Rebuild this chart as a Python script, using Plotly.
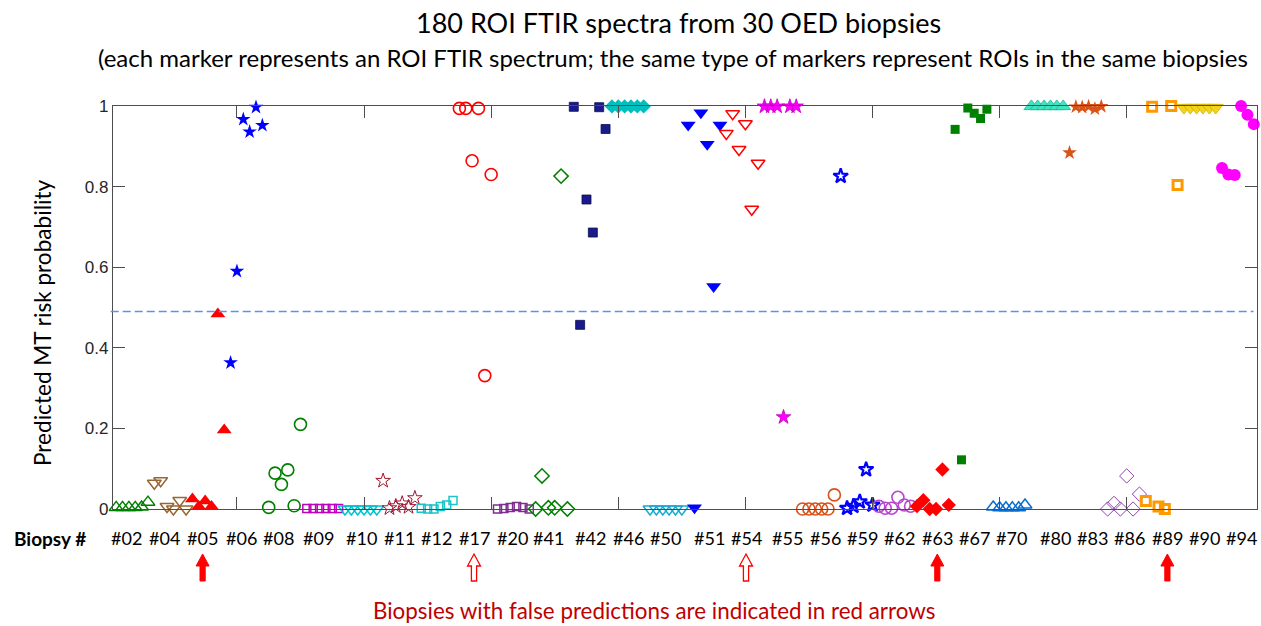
import plotly.graph_objects as go

# ---------------- data ----------------
biopsy_labels = ["#02", "#04", "#05", "#06", "#08", "#09", "#10", "#11", "#12", "#17",
                 "#20", "#41", "#42", "#46", "#50", "#51", "#54", "#55", "#56", "#59",
                 "#62", "#63", "#67", "#70", "#80", "#83", "#86", "#89", "#90", "#94"]

b02 = [0.004, 0.004, 0.004, 0.004, 0.005, 0.017]
b04 = [0.064, 0.070, 0.006, 0.000, 0.021, 0.000]
b05 = [0.025, 0.006, 0.020, 0.006, 0.484, 0.196]
b06 = [0.363, 0.590, 0.967, 0.936, 0.997, 0.952]
b08 = [0.004, 0.089, 0.061, 0.097, 0.008, 0.210]
b09 = [0.001, 0.001, 0.001, 0.001, 0.001, 0.001]
b10 = [0.000, 0.000, 0.000, 0.000, 0.000, 0.000]
b11 = [0.070, 0.002, 0.007, 0.014, 0.005, 0.027]
b12 = [0.002, 0.000, 0.000, 0.006, 0.010, 0.021]
b17 = [0.994, 0.994, 0.864, 0.994, 0.331, 0.830]
b20 = [0.000, 0.001, 0.004, 0.006, 0.004, 0.000]
b41 = [0.000, 0.082, 0.003, 0.003, 0.826, 0.000]
b42 = [0.998, 0.457, 0.768, 0.686, 0.997, 0.943]
b46 = [0.999, 0.999, 0.999, 0.999, 0.999, 0.999]
b50 = [0.000, 0.000, 0.000, 0.000, 0.000, 0.000]
b51 = [0.953, 0.003, 0.983, 0.905, 0.552, 0.953]
b54 = [0.932, 0.981, 0.892, 0.956, 0.744, 0.858]
b55 = [0.999, 0.999, 0.999, 0.228, 0.999, 0.999]
b56 = [0.000, 0.000, 0.000, 0.000, 0.000, 0.035]
b59 = [0.826, 0.002, 0.007, 0.018, 0.098, 0.010]
b62 = [0.007, 0.002, 0.002, 0.029, 0.010, 0.007]
b63 = [0.007, 0.022, 0.000, 0.000, 0.098, 0.010]
b67 = [0.942, 0.122, 0.995, 0.982, 0.969, 0.992]
b70 = [0.005, 0.003, 0.003, 0.003, 0.003, 0.010]
b80 = [0.999, 0.999, 0.999, 0.999, 0.999, 0.999]
b83 = [0.884, 0.998, 0.997, 0.999, 0.993, 0.999]
b86 = [0.000, 0.014, 0.000, 0.082, 0.000, 0.037]
b89 = [0.020, 0.998, 0.006, 0.000, 1.000, 0.804]
b90 = [0.996, 0.996, 0.996, 0.996, 0.996, 0.996]
b94 = [0.846, 0.830, 0.829, 1.000, 0.978, 0.955]

series = [b02, b04, b05, b06, b08, b09, b10, b11, b12, b17,
          b20, b41, b42, b46, b50, b51, b54, b55, b56, b59,
          b62, b63, b67, b70, b80, b83, b86, b89, b90, b94]

# x position (ROI index units) of each biopsy label under the axis
label_x = [2.7, 8.6, 14.6, 20.7, 26.5, 32.9, 39.6, 45.5, 51.4, 57.3,
           63.4, 69.0, 75.7, 81.6, 87.4, 94.4, 100.1, 106.7, 112.6, 118.4,
           124.3, 130.2, 136.1, 141.9, 148.8, 154.6, 160.4, 166.4, 172.2, 178.1]

false_prediction = {"#05": "solid", "#17": "hollow", "#54": "hollow", "#63": "solid", "#89": "solid"}

threshold = 0.49
y_ticks = [0, 0.2, 0.4, 0.6, 0.8, 1]
y_ticktext = ["0", "0.2", "0.4", "0.6", "0.8", "1"]
x_ticks = [20, 40, 60, 80, 100, 120, 140, 160]

# ---------------- styles ----------------
# (symbol, color, size, line width, edge color)
styles = [
    ("triangle-up-open", "#008000", 12, 1.5, None),
    ("triangle-down-open", "#996633", 12, 1.5, None),
    ("triangle-up", "#FF0000", 13, 0, None),
    ("star", "#0000FF", 11, 0, None),
    ("circle-open", "#008000", 12, 1.6, None),
    ("square-open", "#BF00BF", 8, 1.5, None),
    ("triangle-down-open", "#00C3D0", 12, 1.5, None),
    ("star-open", "#A2142F", 11, 1.0, None),
    ("square-open", "#1CC3C8", 8, 1.5, None),
    ("circle-open", "#FF0000", 12, 1.6, None),
    ("square-open", "#7E2F8E", 8, 1.5, None),
    ("diamond-open", "#008000", 11, 1.5, None),
    ("square", "#1A1A8C", 9, 0.8, "#0D0D50"),
    ("diamond", "#00BFBF", 11, 0, None),
    ("triangle-down-open", "#1AAAD2", 12, 1.5, None),
    ("triangle-down", "#0000FF", 13, 0, None),
    ("triangle-down-open", "#FF0000", 12, 1.5, None),
    ("star", "#FF00FF", 11, 0.8, "#C000C0"),
    ("circle-open", "#D95319", 12, 1.6, None),
    ("star-open", "#0000FF", 11, 2.2, None),
    ("circle-open", "#B847D0", 12, 1.6, None),
    ("diamond", "#FF0000", 11, 0, None),
    ("square", "#008000", 9, 0, None),
    ("triangle-up-open", "#0A6ED1", 12, 1.5, None),
    ("triangle-up", "#3DE6C0", 13, 0.8, "#22B39A"),
    ("star", "#D95319", 11, 0, None),
    ("diamond-open", "#8E44AD", 11, 1.0, None),
    ("square-open", "#FF9900", 9, 3.0, None),
    ("triangle-down", "#F2D41A", 13, 0.8, "#D4B000"),
    ("circle", "#FF00FF", 12, 0, None),
]

fig = go.Figure()
n_per = 6
for k, (vals, lab, st) in enumerate(zip(series, biopsy_labels, styles)):
    sym, col, size, lw, edge = st
    xs = [k * n_per + i + 1 for i in range(len(vals))]
    marker = dict(symbol=sym, color=col, size=size,
                  line=dict(width=lw, color=edge if edge else col))
    fig.add_trace(go.Scatter(x=xs, y=vals, mode="markers", marker=marker,
                             name=lab, cliponaxis=False, showlegend=False))

# ---------------- geometry helpers ----------------
L, R, T, B = 113, 4, 106, 117
W, H = 1261, 626
plot_w = W - L - R
plot_h = H - T - B
x_range = [0.5, 180.5]
px_per_unit = plot_w / (x_range[1] - x_range[0])


def py2paper(py):
    return (H - B - py) / plot_h


def px2paper(px):
    return (px - L) / plot_w


axis_col = "#4D4D4D"
text_font = "Lato, 'Open Sans', sans-serif"

# threshold dashed line
fig.add_shape(type="line", xref="paper", yref="y", x0=-0.002, x1=0.997,
              y0=threshold, y1=threshold,
              line=dict(color="#5A92F0", width=1.5, dash="8px,4px"))

annotations = []
# titles
annotations.append(dict(text="180 ROI FTIR spectra from 30 OED biopsies",
                        xref="paper", yref="paper", x=px2paper(678), y=py2paper(22),
                        showarrow=False, xanchor="center", yanchor="middle",
                        font=dict(family=text_font, size=27, color="#000000")))
annotations.append(dict(text="(each marker represents an ROI FTIR spectrum; the same type of markers represent ROIs in the same biopsies",
                        xref="paper", yref="paper", x=px2paper(673), y=py2paper(57),
                        showarrow=False, xanchor="center", yanchor="middle",
                        font=dict(family=text_font, size=24, color="#000000")))
# y label
annotations.append(dict(text="Predicted MT risk probability",
                        xref="paper", yref="paper", x=px2paper(42), y=py2paper(323),
                        showarrow=False, xanchor="center", yanchor="middle", textangle=-90,
                        font=dict(family=text_font, size=22.6, color="#000000")))
# Biopsy # header
annotations.append(dict(text="<b>Biopsy #</b>", xref="paper", yref="paper",
                        x=px2paper(50), y=py2paper(538), showarrow=False,
                        xanchor="center", yanchor="middle",
                        font=dict(family=text_font, size=19, color="#000000")))
for lab, lx in zip(biopsy_labels, label_x):
    annotations.append(dict(text=lab, xref="x", yref="paper", x=lx, y=py2paper(538),
                            showarrow=False, xanchor="center", yanchor="middle",
                            font=dict(family=text_font, size=18, color="#000000")))
# bottom note
annotations.append(dict(text="Biopsies with false predictions are indicated in red arrows",
                        xref="paper", yref="paper", x=px2paper(654), y=py2paper(610),
                        showarrow=False, xanchor="center", yanchor="middle",
                        font=dict(family=text_font, size=22.4, color="#C00000")))

# arrows (shapes) under biopsies with false predictions
tip, head_base, bottom = 554, 566, 581
hw, sw = 6.5 / px_per_unit, 2.6 / px_per_unit
for lab, kind in false_prediction.items():
    xc = label_x[biopsy_labels.index(lab)]
    yt, yh, yb = py2paper(tip), py2paper(head_base), py2paper(bottom)
    path = (f"M {xc},{yt} L {xc + hw},{yh} L {xc + sw},{yh} L {xc + sw},{yb} "
            f"L {xc - sw},{yb} L {xc - sw},{yh} L {xc - hw},{yh} Z")
    if kind == "solid":
        fig.add_shape(type="path", xref="x", yref="paper", path=path,
                      fillcolor="#FF0000", line=dict(color="#FF0000", width=1))
    else:
        fig.add_shape(type="path", xref="x", yref="paper", path=path,
                      fillcolor="#FFFFFF", line=dict(color="#FF0000", width=1.3))

fig.update_layout(
    width=W, height=H,
    margin=dict(l=L, r=R, t=T, b=B, pad=0),
    paper_bgcolor="#FFFFFF", plot_bgcolor="#FFFFFF",
    showlegend=False,
    annotations=annotations,
    xaxis=dict(range=x_range, tickvals=x_ticks, showticklabels=False,
               ticks="inside", ticklen=12, tickwidth=1, tickcolor=axis_col,
               showline=True, linecolor=axis_col, linewidth=1.3, mirror="ticks",
               showgrid=False, zeroline=False),
    yaxis=dict(range=[0, 1], tickvals=y_ticks, ticktext=y_ticktext,
               ticks="inside", ticklen=12, tickwidth=1, tickcolor=axis_col,
               showline=True, linecolor=axis_col, linewidth=1.3, mirror="ticks",
               showgrid=False, zeroline=False,
               tickfont=dict(family="'Liberation Sans', Arial, sans-serif", size=17, color="#262626")),
)

fig.write_html("out.html")
